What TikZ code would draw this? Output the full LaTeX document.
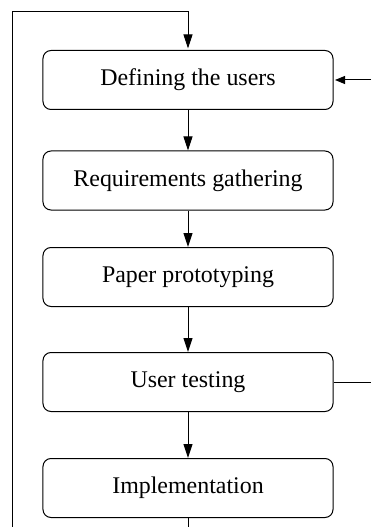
\documentclass[tikz,border=0pt]{standalone}
\usepackage{fontspec}
\setmainfont{Liberation Serif}
\usetikzlibrary{arrows.meta}
\begin{document}
\begin{tikzpicture}[x=1bp,y=-1bp,
  stagebox/.style={draw, line width=1bp, rounded corners=8bp, minimum width=290bp, minimum height=59bp, inner sep=0pt, font=\fontsize{24}{28}\selectfont},
  flow/.style={line width=1bp, -{Triangle[length=14bp,width=9bp]}},
  sideflow/.style={line width=1bp, -{Triangle[length=10bp,width=8bp]}},
  plain/.style={line width=1bp}]
\useasboundingbox (0,0) rectangle (371,527);
\node[stagebox] (def) at (188,80) {Defining the users};
\node[stagebox] (req) at (188,180.5) {Requirements gathering};
\node[stagebox] (pap) at (188,277) {Paper prototyping};
\node[stagebox] (tst) at (188,382) {User testing};
\node[stagebox] (imp) at (188,488) {Implementation};
\coordinate (botC) at (188,527);
\coordinate (botL) at (12.5,527);
\coordinate (topL) at (12.5,11.5);
\coordinate (topC) at (188,11.5);
\coordinate (rDef) at (371,80);
\coordinate (rTst) at (371,382);
\draw[flow] (def) -- (req);
\draw[flow] (req) -- (pap);
\draw[flow] (pap) -- (tst);
\draw[flow] (tst) -- (imp);
\draw[plain] (imp.south) -- (botC);
\draw[flow] (botL) -- (topL) -- (topC) -- ([yshift=1.5bp]def.north);
\draw[plain] (tst.east) -- (rTst);
\draw[sideflow] (rDef) -- ([xshift=1.5bp]def.east);
\end{tikzpicture}
\end{document}
